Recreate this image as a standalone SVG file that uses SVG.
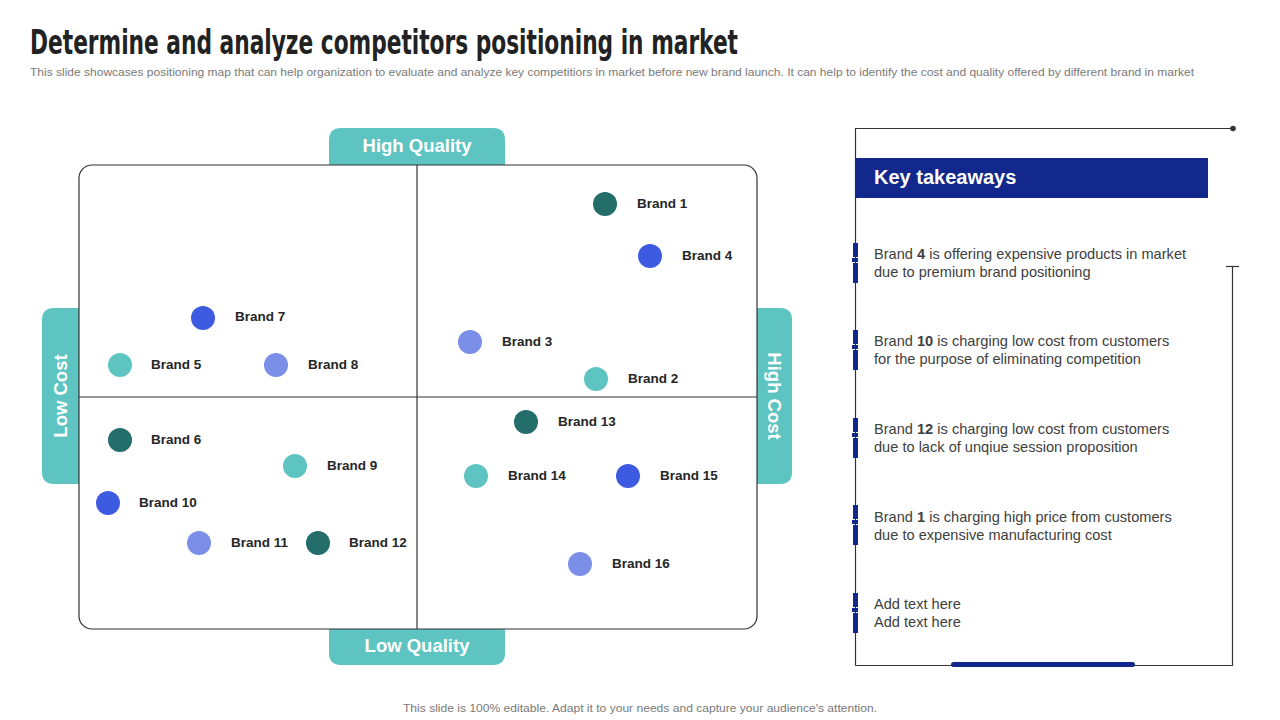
<svg xmlns="http://www.w3.org/2000/svg" width="1280" height="720" viewBox="0 0 1280 720">
<style>
.title{font-family:"Liberation Sans Narrow","DejaVu Sans Condensed","Liberation Sans",sans-serif;font-weight:bold;font-size:33px;fill:#222}
.sub{font-family:"Liberation Sans",Arial,sans-serif;font-size:11px;fill:#7a7a7a}
.tab{fill:#5ec4c1}
.tabt{font-family:"Liberation Sans",Arial,sans-serif;font-weight:bold;font-size:18.5px;fill:#fff;text-anchor:middle}
.lbl{font-family:"Liberation Sans",Arial,sans-serif;font-weight:bold;font-size:13.5px;fill:#262626}
.dark{fill:#236e6a}.blue{fill:#3d5be0}.lblue{fill:#7b8ee8}.teal{fill:#5ec4c1}
.ln{stroke:#333;stroke-width:1.2;fill:none}
.kt{font-family:"Liberation Sans",Arial,sans-serif;font-size:14.6px;fill:#404040}
.mk{fill:#13288d}
</style>
<text class="title" x="30" y="54" textLength="708" lengthAdjust="spacingAndGlyphs">Determine and analyze competitors positioning in market</text>
<text class="sub" x="30" y="76" textLength="1164" lengthAdjust="spacingAndGlyphs">This slide showcases positioning map that can help organization to evaluate and analyze  key competitiors in market before new brand launch. It can help to identify the cost and quality offered by different brand in market</text>

<g id="axes">
<path class="tab" d="M329,165 V140 Q329,128 341,128 H493 Q505,128 505,140 V165 Z"/>
<text class="tabt" x="417" y="152">High Quality</text>
<path class="tab" d="M329,629 V653 Q329,665 341,665 H493 Q505,665 505,653 V629 Z"/>
<text class="tabt" x="417" y="652">Low Quality</text>
<path class="tab" d="M79,308 H54 Q42,308 42,320 V472 Q42,484 54,484 H79 Z"/>
<text class="tabt" transform="translate(67,396) rotate(-90)">Low Cost</text>
<path class="tab" d="M757,308 H780 Q792,308 792,320 V472 Q792,484 780,484 H757 Z"/>
<text class="tabt" transform="translate(768,396) rotate(90)">High Cost</text>
<rect class="ln" x="79" y="165" width="678" height="464" rx="13"/>
<line class="ln" x1="417" y1="165" x2="417" y2="629"/>
<line class="ln" x1="79" y1="397" x2="757" y2="397"/>
</g>

<g id="brand1"><circle class="dark" cx="605" cy="204" r="12"/><text class="lbl" x="637" y="208">Brand 1</text></g>
<g id="brand4"><circle class="blue" cx="650" cy="256" r="12"/><text class="lbl" x="682" y="260">Brand 4</text></g>
<g id="brand7"><circle class="blue" cx="203" cy="318" r="12"/><text class="lbl" x="235" y="321">Brand 7</text></g>
<g id="brand5"><circle class="teal" cx="120" cy="365" r="12"/><text class="lbl" x="151" y="369">Brand 5</text></g>
<g id="brand8"><circle class="lblue" cx="276" cy="365" r="12"/><text class="lbl" x="308" y="369">Brand 8</text></g>
<g id="brand3"><circle class="lblue" cx="470" cy="342" r="12"/><text class="lbl" x="502" y="346">Brand 3</text></g>
<g id="brand2"><circle class="teal" cx="596" cy="379" r="12"/><text class="lbl" x="628" y="383">Brand 2</text></g>
<g id="brand13"><circle class="dark" cx="526" cy="422" r="12"/><text class="lbl" x="558" y="426">Brand 13</text></g>
<g id="brand6"><circle class="dark" cx="120" cy="440" r="12"/><text class="lbl" x="151" y="444">Brand 6</text></g>
<g id="brand9"><circle class="teal" cx="295" cy="466" r="12"/><text class="lbl" x="327" y="470">Brand 9</text></g>
<g id="brand10"><circle class="blue" cx="108" cy="503" r="12"/><text class="lbl" x="139" y="507">Brand 10</text></g>
<g id="brand11"><circle class="lblue" cx="199" cy="543" r="12"/><text class="lbl" x="231" y="547">Brand 11</text></g>
<g id="brand12"><circle class="dark" cx="318" cy="543" r="12"/><text class="lbl" x="349" y="547">Brand 12</text></g>
<g id="brand14"><circle class="teal" cx="476" cy="476" r="12"/><text class="lbl" x="508" y="480">Brand 14</text></g>
<g id="brand15"><circle class="blue" cx="628" cy="476" r="12"/><text class="lbl" x="660" y="480">Brand 15</text></g>
<g id="brand16"><circle class="lblue" cx="580" cy="564" r="12"/><text class="lbl" x="612" y="568">Brand 16</text></g>

<g id="takeaways">
<path class="ln" d="M855.5,665.5 V128.5 H1233"/>
<circle cx="1233" cy="128.5" r="2.8" fill="#333"/>
<path class="ln" d="M1232.5,266 V665.5 H855.5"/>
<line class="ln" x1="1226" y1="266.5" x2="1239" y2="266.5"/>
<rect x="951" y="662" width="184" height="5" rx="2.5" class="mk"/>
<rect x="855" y="158" width="353" height="40" class="mk"/>
<text x="874" y="184" font-family="Liberation Sans, Arial, sans-serif" font-weight="bold" font-size="20" fill="#fff">Key takeaways</text>

<g id="item1">
<rect class="mk" x="853" y="243" width="5" height="14"/><rect class="mk" x="852" y="258" width="6" height="4"/><rect class="mk" x="853" y="263" width="5" height="20"/>
<text class="kt" x="874" y="259">Brand <tspan font-weight="bold">4</tspan> is offering expensive products in market</text>
<text class="kt" x="874" y="277">due to premium brand positioning</text>
</g>
<g id="item2">
<rect class="mk" x="853" y="330" width="5" height="14"/><rect class="mk" x="852" y="345" width="6" height="4"/><rect class="mk" x="853" y="350" width="5" height="20"/>
<text class="kt" x="874" y="346">Brand <tspan font-weight="bold">10</tspan> is charging low cost from customers</text>
<text class="kt" x="874" y="364">for the purpose of eliminating  competition</text>
</g>
<g id="item3">
<rect class="mk" x="853" y="418" width="5" height="14"/><rect class="mk" x="852" y="433" width="6" height="4"/><rect class="mk" x="853" y="438" width="5" height="20"/>
<text class="kt" x="874" y="434">Brand <tspan font-weight="bold">12</tspan> is charging low cost from customers</text>
<text class="kt" x="874" y="452">due to lack of unqiue session proposition</text>
</g>
<g id="item4">
<rect class="mk" x="853" y="505" width="5" height="14"/><rect class="mk" x="852" y="520" width="6" height="4"/><rect class="mk" x="853" y="525" width="5" height="20"/>
<text class="kt" x="874" y="522">Brand <tspan font-weight="bold">1</tspan> is charging high price from customers</text>
<text class="kt" x="874" y="540">due to expensive manufacturing cost</text>
</g>
<g id="item5">
<rect class="mk" x="853" y="593" width="5" height="14"/><rect class="mk" x="852" y="608" width="6" height="4"/><rect class="mk" x="853" y="613" width="5" height="20"/>
<text class="kt" x="874" y="609">Add text here</text>
<text class="kt" x="874" y="627">Add text here</text>
</g>
</g>

<text class="sub" x="640" y="712" text-anchor="middle" textLength="474" lengthAdjust="spacingAndGlyphs">This slide is 100% editable. Adapt it to your needs and capture your audience's attention.</text>
</svg>
